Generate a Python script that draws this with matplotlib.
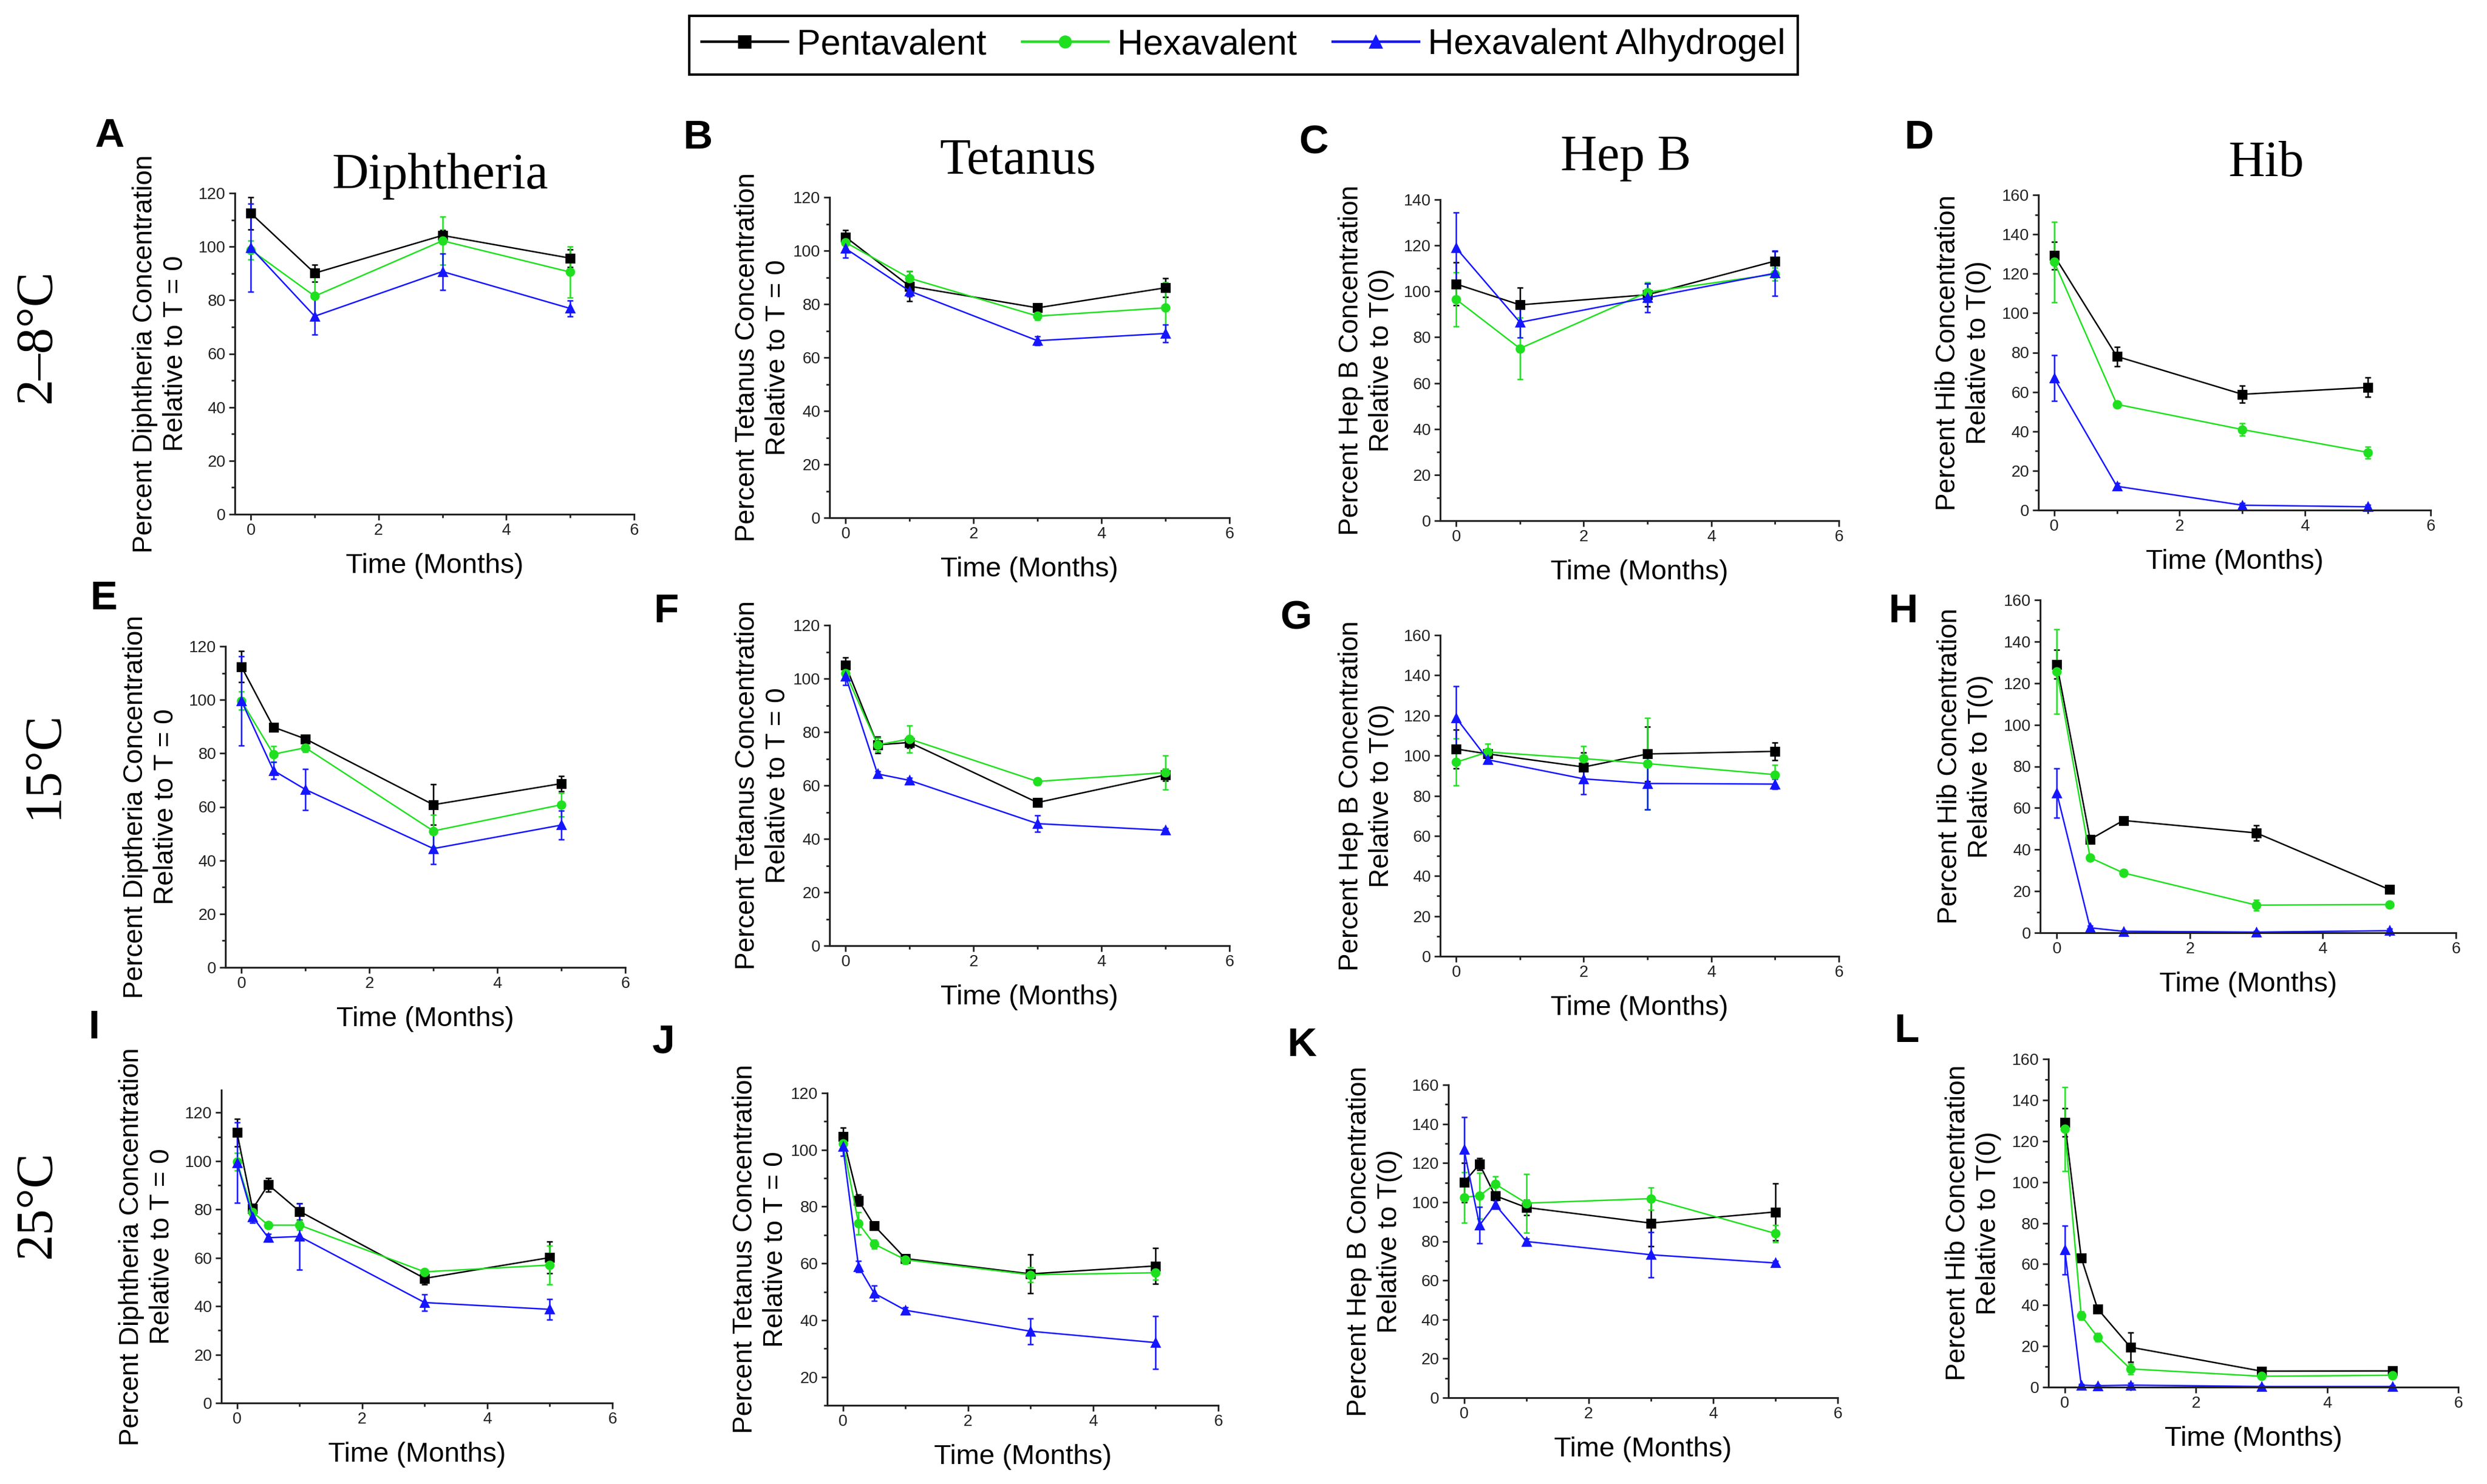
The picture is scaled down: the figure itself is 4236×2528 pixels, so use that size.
import matplotlib
matplotlib.use("Agg")
import matplotlib.pyplot as plt
from matplotlib.ticker import MultipleLocator
from matplotlib.lines import Line2D

plt.rcParams['font.family'] = ['Liberation Sans', 'DejaVu Sans']

# series
series_names = ['Pentavalent', 'Hexavalent', 'Hexavalent Alhydrogel']
series_colors = ['#000000', '#1fe01f', '#1515ff']
series_markers = ['s', 'o', '^']

# sampling times (months)
t_2_8 = [0, 1, 3, 5]
t_15 = [0, 0.5, 1, 3, 5]
t_15_hepb = [0, 0.5, 2, 3, 5]
t_25 = [0, 0.25, 0.5, 1, 3, 5]

# A - Diphtheria 2-8C
penta_A = [112.5, 90.1, 104.2, 95.7]
penta_A_err = [6.0, 3.2, 2.0, 3.3]
hexa_A = [98.8, 81.5, 102.2, 90.5]
hexa_A_err = [3.5, 8.0, 9.0, 9.5]
alhy_A = [99.6, 74.0, 90.7, 76.9]
alhy_A_err = [16.5, 6.8, 6.8, 3.0]

# B - Tetanus 2-8C
penta_B = [105.1, 86.7, 78.6, 86.1]
penta_B_err = [2.6, 5.5, 1.0, 3.5]
hexa_B = [103.1, 89.7, 75.5, 78.6]
hexa_B_err = [2.5, 2.5, 1.5, 9.5]
alhy_B = [100.8, 84.9, 66.3, 69.0]
alhy_B_err = [3.4, 2.0, 1.6, 3.2]

# C - Hep B 2-8C
penta_C = [103.2, 94.1, 98.5, 113.2]
penta_C_err = [9.3, 7.5, 5.0, 4.3]
hexa_C = [96.5, 75.1, 99.6, 107.5]
hexa_C_err = [11.8, 13.4, 4.3, 2.7]
alhy_C = [118.9, 86.5, 97.2, 107.9]
alhy_C_err = [15.5, 6.7, 6.3, 9.9]

# D - Hib 2-8C
penta_D = [129.2, 78.0, 58.8, 62.3]
penta_D_err = [7.0, 4.9, 4.3, 4.9]
hexa_D = [126.0, 53.7, 40.9, 29.3]
hexa_D_err = [20.4, 1.5, 3.1, 3.0]
alhy_D = [67.1, 12.1, 2.5, 1.7]
alhy_D_err = [11.7, 1.5, 1.0, 1.0]

# E - Diphtheria 15C
penta_E = [112.4, 89.8, 85.4, 60.8, 68.7]
penta_E_err = [5.8, 1.0, 1.0, 7.6, 2.8]
hexa_E = [99.6, 79.7, 82.1, 51.0, 60.8]
hexa_E_err = [3.4, 3.0, 1.5, 6.0, 4.4]
alhy_E = [99.6, 73.6, 66.5, 44.4, 53.2]
alhy_E_err = [16.6, 3.1, 7.6, 5.7, 5.4]

# F - Tetanus 15C
penta_F = [105.0, 75.2, 76.1, 53.6, 63.9]
penta_F_err = [3.0, 3.1, 2.0, 1.5, 2.2]
hexa_F = [102.0, 75.2, 77.4, 61.5, 64.8]
hexa_F_err = [2.0, 2.5, 5.0, 1.2, 6.3]
alhy_F = [100.9, 64.3, 61.9, 45.7, 43.2]
alhy_F_err = [3.4, 1.0, 1.0, 3.1, 0.8]

# G - Hep B 15C
penta_G = [103.3, 100.8, 94.3, 100.8, 102.1]
penta_G_err = [9.6, 2.0, 7.2, 13.5, 4.5]
hexa_G = [96.7, 101.8, 98.5, 96.0, 90.5]
hexa_G_err = [11.7, 4.0, 6.2, 22.9, 5.0]
alhy_G = [118.8, 97.9, 88.4, 86.1, 85.8]
alhy_G_err = [15.7, 1.0, 7.8, 13.0, 2.5]

# H - Hib 15C
penta_H = [129.1, 44.9, 54.0, 48.0, 20.8]
penta_H_err = [6.9, 2.0, 1.5, 3.7, 1.0]
hexa_H = [125.6, 36.1, 28.8, 13.3, 13.6]
hexa_H_err = [20.4, 1.5, 1.5, 2.5, 1.0]
alhy_H = [67.1, 2.4, 0.7, 0.3, 1.0]
alhy_H_err = [11.9, 1.0, 0.5, 0.5, 1.0]

# I - Diphtheria 25C
penta_I = [111.8, 80.2, 90.2, 79.2, 51.5, 60.1]
penta_I_err = [5.7, 2.0, 2.8, 3.4, 2.6, 6.6]
hexa_I = [99.7, 78.9, 73.5, 73.5, 54.2, 57.0]
hexa_I_err = [3.6, 2.0, 1.0, 2.0, 1.0, 8.0]
alhy_I = [99.3, 76.9, 68.3, 68.8, 41.5, 38.7]
alhy_I_err = [16.6, 2.5, 1.5, 13.8, 3.5, 4.3]

# J - Tetanus 25C
penta_J = [104.7, 82.2, 73.3, 61.7, 56.3, 59.1]
penta_J_err = [3.2, 2.0, 1.5, 1.5, 6.9, 6.3]
hexa_J = [102.3, 74.1, 66.8, 61.3, 56.0, 56.7]
hexa_J_err = [2.0, 4.0, 1.5, 1.5, 2.5, 2.5]
alhy_J = [101.2, 58.9, 49.5, 43.5, 36.1, 32.1]
alhy_J_err = [3.3, 2.0, 2.6, 1.0, 4.5, 9.3]

# K - Hep B 25C
penta_K = [110.1, 119.4, 103.3, 97.3, 89.3, 95.0]
penta_K_err = [10.0, 3.0, 2.0, 3.8, 12.0, 14.6]
hexa_K = [102.5, 103.3, 109.3, 99.5, 101.8, 84.0]
hexa_K_err = [12.9, 11.7, 3.8, 15.0, 5.8, 4.4]
alhy_K = [127.1, 88.2, 98.8, 79.9, 73.1, 68.9]
alhy_K_err = [16.5, 9.3, 2.0, 1.5, 11.6, 1.0]

# L - Hib 25C
penta_L = [129.1, 63.1, 38.2, 19.5, 7.8, 7.9]
penta_L_err = [6.9, 1.5, 1.5, 7.2, 1.0, 1.0]
hexa_L = [125.8, 34.9, 24.4, 8.9, 5.3, 5.8]
hexa_L_err = [20.6, 2.0, 2.0, 2.5, 1.0, 1.0]
alhy_L = [66.9, 1.0, 0.7, 1.0, 0.3, 0.3]
alhy_L_err = [11.9, 0.5, 0.5, 1.0, 0.5, 0.5]

col_titles = ['Diphtheria', 'Tetanus', 'Hep B', 'Hib']
row_titles = ['2\u20138\u00b0C', '15\u00b0C', '25\u00b0C']

lab_dip = 'Percent Diphtheria Concentration\nRelative to T = 0'
lab_dip2 = 'Percent Diptheria Concentration\nRelative to T = 0'
lab_tet = 'Percent Tetanus Concentration\nRelative to T = 0'
lab_hep = 'Percent Hep B Concentration\nRelative to T(0)'
lab_hib = 'Percent Hib Concentration\nRelative to T(0)'

# letter, times, series data, ylabel, ylim, first y tick
panels = [
    ('A', t_2_8, [(penta_A, penta_A_err), (hexa_A, hexa_A_err), (alhy_A, alhy_A_err)], lab_dip, (0, 120), 0),
    ('B', t_2_8, [(penta_B, penta_B_err), (hexa_B, hexa_B_err), (alhy_B, alhy_B_err)], lab_tet, (0, 120), 0),
    ('C', t_2_8, [(penta_C, penta_C_err), (hexa_C, hexa_C_err), (alhy_C, alhy_C_err)], lab_hep, (0, 140), 0),
    ('D', t_2_8, [(penta_D, penta_D_err), (hexa_D, hexa_D_err), (alhy_D, alhy_D_err)], lab_hib, (0, 160), 0),
    ('E', t_15, [(penta_E, penta_E_err), (hexa_E, hexa_E_err), (alhy_E, alhy_E_err)], lab_dip2, (0, 120), 0),
    ('F', t_15, [(penta_F, penta_F_err), (hexa_F, hexa_F_err), (alhy_F, alhy_F_err)], lab_tet, (0, 120), 0),
    ('G', t_15_hepb, [(penta_G, penta_G_err), (hexa_G, hexa_G_err), (alhy_G, alhy_G_err)], lab_hep, (0, 160), 0),
    ('H', t_15, [(penta_H, penta_H_err), (hexa_H, hexa_H_err), (alhy_H, alhy_H_err)], lab_hib, (0, 160), 0),
    ('I', t_25, [(penta_I, penta_I_err), (hexa_I, hexa_I_err), (alhy_I, alhy_I_err)], lab_dip, (0, 129.3), 0),
    ('J', t_25, [(penta_J, penta_J_err), (hexa_J, hexa_J_err), (alhy_J, alhy_J_err)], lab_tet, (10, 120), 20),
    ('K', t_25, [(penta_K, penta_K_err), (hexa_K, hexa_K_err), (alhy_K, alhy_K_err)], lab_hep, (0, 160), 0),
    ('L', t_25, [(penta_L, penta_L_err), (hexa_L, hexa_L_err), (alhy_L, alhy_L_err)], lab_hib, (0, 160), 0),
]

# layout (pixels of the 4236 x 2528 image): left, right, top, bottom of each axes
W, H = 4236, 2528
boxes = [
    (400, 1080, 329, 876), (1413, 2094, 336, 882), (2453, 3132, 340, 887), (3472, 4140, 332, 869),
    (384, 1065, 1101, 1648), (1413, 2094, 1065, 1611), (2453, 3132, 1082, 1629), (3475, 4183, 1022, 1589),
    (377, 1043, 1857, 2390), (1409, 2075, 1862, 2394), (2467, 3130, 1848, 2381), (3489, 4187, 1804, 2363),
]
ylab_off = [127, 114, 126, 128]
letter_pos = [(186, 232), (1188, 235), (2237, 244), (3268, 235),
              (177, 1020), (1135, 1042), (2207, 1054), (3241, 1042),
              (160, 1751), (1130, 1776), (2217, 1781), (3248, 1757)]
col_title_pos = [(750, 300), (1734, 275), (2769, 269), (3860, 279)]
row_title_pos = [(63, 573), (74, 1303), (63, 2052)]

fig = plt.figure(figsize=(W / 200, H / 200), dpi=200)

for i, (letter, t, data, ylab, ylim, ystart) in enumerate(panels):
    l, r, top, bot = boxes[i]
    ax = fig.add_axes([l / W, 1 - bot / H, (r - l) / W, (bot - top) / H])
    for (vals, errs), c, m in zip(data, series_colors, series_markers):
        ax.errorbar(t, vals, yerr=errs, color=c, marker=m, ms=4.8, lw=0.9,
                    elinewidth=0.9, capsize=1.8, capthick=0.9, mec=c, clip_on=False)
    ax.set_xlim(-0.25, 6)
    ax.set_ylim(*ylim)
    ax.set_yticks(range(ystart, int(ylim[1]) // 20 * 20 + 1, 20))
    ax.xaxis.set_major_locator(MultipleLocator(2))
    ax.xaxis.set_minor_locator(MultipleLocator(1))
    ax.yaxis.set_minor_locator(MultipleLocator(10))
    for s in ['top', 'right']:
        ax.spines[s].set_visible(False)
    for s in ['left', 'bottom']:
        ax.spines[s].set_linewidth(1.1)
        ax.spines[s].set_color('#222222')
    ax.tick_params(which='both', direction='out', width=1.0, colors='#222222', labelsize=10, pad=2)
    ax.tick_params(which='major', length=3.5)
    ax.tick_params(which='minor', length=2)
    ax.set_ylabel(ylab, fontsize=16.5, va='center', linespacing=1.25)
    ax.yaxis.set_label_coords(-ylab_off[i % 4] / (r - l), 0.5)
    ax.set_xlabel('Time (Months)', fontsize=17, va='center')
    ax.xaxis.set_label_coords(0.5, -88 / (bot - top))
    lx, ly = letter_pos[i]
    fig.text(lx / W, 1 - ly / H, letter, fontsize=25, fontweight='bold', ha='center', va='center')

for txt, (x, y) in zip(col_titles, col_title_pos):
    fig.text(x / W, 1 - y / H, txt, fontsize=31, family=['Liberation Serif', 'DejaVu Serif'],
             ha='center', va='center')
for txt, (x, y) in zip(row_titles, row_title_pos):
    fig.text(x / W, 1 - y / H, txt, fontsize=32, family=['Liberation Serif', 'DejaVu Serif'],
             rotation=90, ha='center', va='center')

handles = [Line2D([], [], color=c, marker=m, ms=7, lw=1.6) for c, m in zip(series_colors, series_markers)]
leg = fig.legend(handles, series_names, loc='upper center', bbox_to_anchor=(0.5, 1 - 27 / H), ncol=3,
                 fontsize=22, frameon=True, fancybox=False, edgecolor='black', framealpha=1,
                 handlelength=2.4, handletextpad=0.25, columnspacing=1.0, borderpad=0.35,
                 borderaxespad=0)
leg.get_frame().set_linewidth(1.5)

fig.savefig('out.png', dpi=200)
